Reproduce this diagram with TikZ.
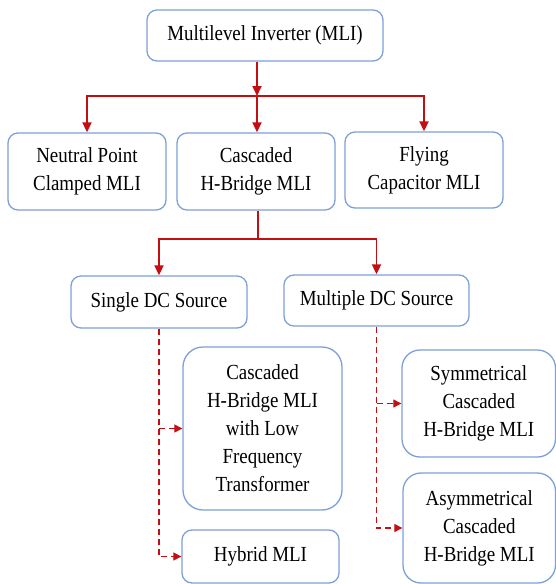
\documentclass[tikz,border=0pt]{standalone}
\usepackage{fontspec}
\setmainfont{LiberationSerif}[Extension=.ttf, UprightFont=*-Regular, BoldFont=*-Bold, FakeStretch=0.88]
\usepackage{tikz}
\usetikzlibrary{arrows.meta, positioning}
\definecolor{BoxBlue}  {RGB}{125, 160, 215}
\definecolor{LinkRed}  {RGB}{195, 15,  20}

\begin{document}
\begin{tikzpicture}[
  x=1pt, y=-1pt,
  box/.style = {
    rectangle, rounded corners=10pt,
    draw=BoxBlue, line width=1.3pt,
    align=center, inner sep=0pt,
    font=\fontsize{21.5}{28}\selectfont
  },
  link/.style = {-{Triangle[length=10pt, width=9pt]}, draw=LinkRed, line width=1.8pt},
  sublink/.style = {-{Triangle[length=8pt, width=8pt]}, draw=LinkRed,
    line width=1.2pt, dash pattern=on 6pt off 4pt}
]
\useasboundingbox (0,0) rectangle (556,584);

% Multilevel inverter
\node[box, minimum width=236pt, minimum height=51pt] (mli) at (265,35.5)
  {Multilevel Inverter (MLI)};

% Topologies
\node[box, minimum width=158pt, minimum height=77pt] (npc) at (87,171.5)
  {Neutral Point\\Clamped MLI};
\node[box, minimum width=158pt, minimum height=77pt] (chb) at (256,171.5)
  {Cascaded\\H-Bridge MLI};
\node[box, minimum width=158pt, minimum height=76pt] (fc) at (424,170)
  {Flying\\Capacitor MLI};

\coordinate (top) at (257,96);
\draw[link] (mli.south -| top) -- (top);
\draw[link] (top) -| (npc.north);
\draw[link] (top) -- (chb.north -| top);
\draw[link] (top) -| (fc.north);

% DC sources
\node[box, minimum width=176pt, minimum height=52pt] (single) at (159,302)
  {Single DC Source};
\node[box, minimum width=185pt, minimum height=51pt] (multiple) at (376.5,300.5)
  {Multiple DC Source};

\coordinate (mid) at (258,239);
\draw[link, -] (chb.south -| mid) -- (mid);
\draw[link] (mid) -| (single.north);
\draw[link] (mid) -| (multiple.north);

% Single DC source branch
\node[box, rounded corners=20pt, minimum width=159pt, minimum height=163pt] (lowfreq) at (262.5,428.5)
  {Cascaded\\H-Bridge MLI\\with Low\\Frequency\\Transformer};
\node[box, minimum width=157pt, minimum height=53pt] (hybrid) at (260.5,556.5)
  {Hybrid MLI};

\draw[sublink] (single.south) |- (hybrid.west);
\draw[sublink] (single.south |- lowfreq.west) -- (lowfreq.west);

% Multiple DC source branch
\node[box, rounded corners=18pt, minimum width=153.5pt, minimum height=107pt] (sym) at (478.75,403.5)
  {Symmetrical\\Cascaded\\H-Bridge MLI};
\node[box, rounded corners=18pt, minimum width=152.5pt, minimum height=110pt] (asym) at (479.25,528)
  {Asymmetrical\\Cascaded\\H-Bridge MLI};

\draw[sublink] (multiple.south) |- (asym.west);
\draw[sublink] (multiple.south |- sym.west) -- (sym.west);

\end{tikzpicture}
\end{document}
